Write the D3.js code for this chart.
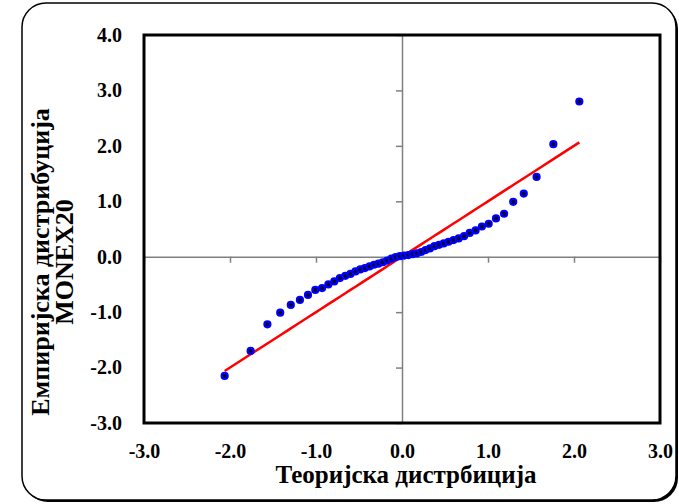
<!DOCTYPE html>
<html>
<head>
<meta charset="utf-8">
<script src="https://cdn.jsdelivr.net/npm/d3@7"></script>
<style>
  body { margin: 0; background: #fff; }
  text { font-family: "Liberation Serif", "Times New Roman", serif; font-weight: bold; }
</style>
</head>
<body>
<div id="chart"></div>
<script>
// theoretical normal quantiles (x) and empirical values (y)
var theoretical = [-2.062, -1.760, -1.565, -1.416, -1.293, -1.187, -1.093, -1.008, -0.929, -0.856,
  -0.787, -0.722, -0.659, -0.599, -0.541, -0.485, -0.431, -0.377, -0.325, -0.274,
  -0.223, -0.173, -0.123, -0.074, -0.025, 0.025, 0.074, 0.123, 0.173, 0.223,
  0.274, 0.325, 0.377, 0.431, 0.485, 0.541, 0.599, 0.659, 0.722, 0.787,
  0.856, 0.929, 1.008, 1.093, 1.187, 1.293, 1.416, 1.565, 1.760, 2.062];
var empirical = [-2.15, -1.70, -1.22, -1.01, -0.87, -0.78, -0.69, -0.60, -0.565, -0.50,
  -0.445, -0.385, -0.345, -0.31, -0.265, -0.23, -0.205, -0.175, -0.145, -0.125,
  -0.10, -0.07, -0.035, -0.005, 0.01, 0.02, 0.03, 0.045, 0.06, 0.085,
  0.12, 0.15, 0.19, 0.215, 0.24, 0.27, 0.30, 0.33, 0.37, 0.43,
  0.475, 0.545, 0.595, 0.69, 0.775, 0.99, 1.14, 1.44, 2.03, 2.80];
var xTicks = [-3, -2, -1, 0, 1, 2, 3];
var yTicks = [-3, -2, -1, 0, 1, 2, 3, 4];
var xTitle = "Теоријска дистрбиција";
var yTitle = ["Емпиријска дистрибуција", "MONEX20"];

var svgWidth = 679;
var svgHeight = 504;
var plot = { left: 144, right: 660, top: 35, bottom: 423 };
var fmt = d => d.toFixed(1);

var svg = d3.select("#chart")
  .append("svg")
  .attr("width", svgWidth)
  .attr("height", svgHeight);

// outer frame with shadow
svg.append("rect")
  .attr("x", 24).attr("y", 5)
  .attr("width", 654).attr("height", 497)
  .attr("rx", 24)
  .attr("fill", "#000");
svg.append("rect")
  .attr("x", 22).attr("y", 3)
  .attr("width", 654).attr("height", 497)
  .attr("rx", 24)
  .attr("fill", "#fff")
  .attr("stroke", "#000")
  .attr("stroke-width", 1.5);

var x = d3.scaleLinear().domain([-3, 3]).range([plot.left, plot.right]);
var y = d3.scaleLinear().domain([-3, 4]).range([plot.bottom, plot.top]);

// zero axes with ticks
svg.append("g")
  .attr("transform", `translate(0, ${y(0)})`)
  .call(d3.axisBottom(x).tickValues(xTicks).tickSize(6).tickSizeOuter(0).tickFormat(""))
  .call(g => g.selectAll("line, path").attr("stroke", "#808080").attr("stroke-width", 1.5));
svg.append("g")
  .attr("transform", `translate(${x(0)}, 0)`)
  .call(d3.axisLeft(y).tickValues(yTicks).tickSize(6).tickSizeOuter(0).tickFormat(""))
  .call(g => g.selectAll("line, path").attr("stroke", "#808080").attr("stroke-width", 1.5));

// plot area border
svg.append("rect")
  .attr("x", plot.left).attr("y", plot.top)
  .attr("width", plot.right - plot.left)
  .attr("height", plot.bottom - plot.top)
  .attr("fill", "none")
  .attr("stroke", "#000")
  .attr("stroke-width", 3);

// tick labels at the plot edges
var bottomLabels = svg.append("g")
  .attr("transform", `translate(0, ${plot.bottom + 18})`)
  .call(d3.axisBottom(x).tickValues(xTicks).tickSize(0).tickFormat(fmt));
bottomLabels.select(".domain").remove();
bottomLabels.selectAll("text").attr("font-size", 20).attr("fill", "#000")
  .attr("font-family", "Liberation Serif").attr("font-weight", "bold");

var leftLabels = svg.append("g")
  .attr("transform", `translate(${plot.left - 19}, 0)`)
  .call(d3.axisLeft(y).tickValues(yTicks).tickSize(0).tickFormat(fmt));
leftLabels.select(".domain").remove();
leftLabels.selectAll("text").attr("font-size", 20).attr("fill", "#000")
  .attr("font-family", "Liberation Serif").attr("font-weight", "bold");

// reference line
var line = d3.line()
  .x(d => x(d))
  .y(d => y(d));
svg.append("path")
  .datum(theoretical)
  .attr("d", line)
  .attr("fill", "none")
  .attr("stroke", "#ff0000")
  .attr("stroke-width", 2.5);

// points
svg.append("g")
  .selectAll("circle")
  .data(theoretical)
  .enter()
  .append("circle")
  .attr("cx", d => x(d))
  .attr("cy", (d, i) => y(empirical[i]))
  .attr("r", 3)
  .attr("fill", "#000022")
  .attr("stroke", "#0000ff")
  .attr("stroke-width", 2.2);

// titles
svg.append("text")
  .attr("x", x(0) + 4)
  .attr("y", 483)
  .attr("text-anchor", "middle")
  .attr("font-size", 25)
  .text(xTitle);

var yt = svg.append("text")
  .attr("transform", `translate(49, 262) rotate(-90)`)
  .attr("text-anchor", "middle")
  .attr("font-size", 26);
yt.append("tspan").attr("x", 0).attr("dy", 0).text(yTitle[0]);
yt.append("tspan").attr("x", 0).attr("dy", 24).text(yTitle[1]);
</script>
</body>
</html>
